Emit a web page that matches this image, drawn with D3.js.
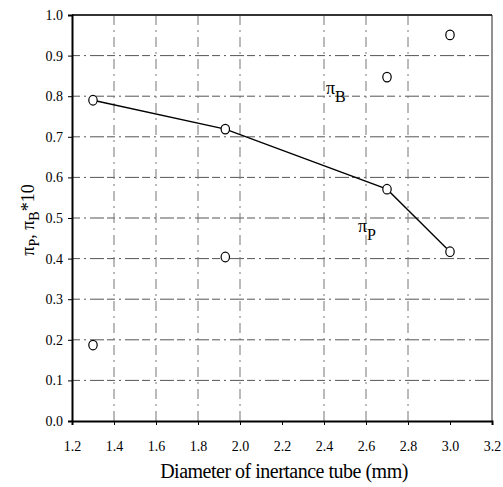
<!DOCTYPE html>
<html>
<head>
<meta charset="utf-8">
<script src="https://cdn.jsdelivr.net/npm/d3@7"></script>
<style>
  body { margin: 0; background: #fff; }
  svg { display: block; }
</style>
</head>
<body>
<svg id="chart"></svg>
<script>
// data
const diameters = [1.3, 1.93, 2.7, 3.0];
const piP = [0.79, 0.719, 0.571, 0.417];   // connected with a line
const piB10 = [0.187, 0.404, 0.847, 0.951]; // open markers only
const xTicks = [1.2, 1.4, 1.6, 1.8, 2.0, 2.2, 2.4, 2.6, 2.8, 3.0, 3.2];
const yTicks = [0.0, 0.1, 0.2, 0.3, 0.4, 0.5, 0.6, 0.7, 0.8, 0.9, 1.0];
const xGrid = [1.4, 1.6, 1.8, 2.0, 2.4, 2.6, 2.8];
const yGrid = [0.1, 0.2, 0.3, 0.4, 0.5, 0.6, 0.7, 0.8, 0.9];

const W = 503, H = 487;
const margin = { top: 15, right: 12, bottom: 66, left: 72 };
const serif = "Liberation Serif";

const svg = d3.select("#chart").attr("width", W).attr("height", H);

const x = d3.scaleLinear().domain([1.2, 3.2]).range([margin.left, W - margin.right + 1]);
const y = d3.scaleLinear().domain([0, 1]).range([H - margin.bottom, margin.top]);

// faint broken grid like the scan
svg.append("g").selectAll("line")
  .data(yGrid).enter().append("line")
  .attr("x1", x(1.2)).attr("x2", x(3.2))
  .attr("y1", d => y(d)).attr("y2", d => y(d))
  .attr("stroke", "#555")
  .attr("stroke-width", 1)
  .attr("stroke-dasharray", "8,4,2,4,14,3");

svg.append("g").selectAll("line")
  .data(xGrid).enter().append("line")
  .attr("x1", d => x(d)).attr("x2", d => x(d))
  .attr("y1", y(0)).attr("y2", y(1))
  .attr("stroke", "#777")
  .attr("stroke-width", 1)
  .attr("stroke-dasharray", "10,5,2,5");

// frame: top and right
svg.append("line")
  .attr("x1", x(1.2)).attr("x2", x(3.2))
  .attr("y1", y(1)).attr("y2", y(1))
  .attr("stroke", "#333").attr("stroke-width", 2);
svg.append("line")
  .attr("x1", x(3.2)).attr("x2", x(3.2))
  .attr("y1", y(1)).attr("y2", y(0))
  .attr("stroke", "#222").attr("stroke-width", 1);

// axes
const xAxis = svg.append("g")
  .attr("transform", `translate(0,${y(0)})`)
  .call(d3.axisBottom(x).tickValues(xTicks).tickFormat(d3.format(".1f")).tickSize(4).tickPadding(16));
const yAxis = svg.append("g")
  .attr("transform", `translate(${x(1.2)},0)`)
  .call(d3.axisLeft(y).tickValues(yTicks).tickFormat(d3.format(".1f")).tickSize(4).tickPadding(5));

[xAxis, yAxis].forEach(g => {
  g.attr("font-family", serif).attr("font-size", 14);
  g.select(".domain").attr("stroke", "#000").attr("stroke-width", 2);
  g.selectAll(".tick line").attr("stroke", "#000");
  g.selectAll("text").attr("fill", "#000");
});

// πP line
svg.append("path")
  .datum(diameters.map((d, i) => [d, piP[i]]))
  .attr("fill", "none")
  .attr("stroke", "#000")
  .attr("stroke-width", 1.3)
  .attr("d", d3.line().x(d => x(d[0])).y(d => y(d[1])));

const allPts = diameters.map((d, i) => [d, piP[i]])
  .concat(diameters.map((d, i) => [d, piB10[i]]));
svg.append("g").selectAll("ellipse")
  .data(allPts).enter().append("ellipse")
  .attr("cx", d => x(d[0]))
  .attr("cy", d => y(d[1]))
  .attr("rx", 4.2).attr("ry", 4.8)
  .attr("fill", "#fff")
  .attr("stroke", "#000")
  .attr("stroke-width", 1.2);

// series labels
function piLabel(px, py, sub) {
  const t = svg.append("text")
    .attr("x", px).attr("y", py)
    .attr("font-family", serif)
    .attr("font-size", 18)
    .attr("fill", "#000");
  t.append("tspan").text("π");
  t.append("tspan").attr("dy", 8).attr("font-size", 16).text(sub);
}
piLabel(326, 94, "B");
piLabel(358, 232, "P");

// axis titles
svg.append("text")
  .attr("x", 284).attr("y", 478)
  .attr("text-anchor", "middle")
  .attr("font-family", serif)
  .attr("font-size", 20)
  .attr("letter-spacing", -0.5)
  .text("Diameter of inertance tube (mm)");

const yl = svg.append("text")
  .attr("transform", "translate(34,220) rotate(-90)")
  .attr("text-anchor", "middle")
  .attr("font-family", serif)
  .attr("font-size", 18);
yl.append("tspan").text("π");
yl.append("tspan").attr("dy", 5).attr("font-size", 14).text("P");
yl.append("tspan").attr("dy", -5).text(", π");
yl.append("tspan").attr("dy", 5).attr("font-size", 14).text("B");
yl.append("tspan").attr("dy", -5).text("*10");
</script>
</body>
</html>
